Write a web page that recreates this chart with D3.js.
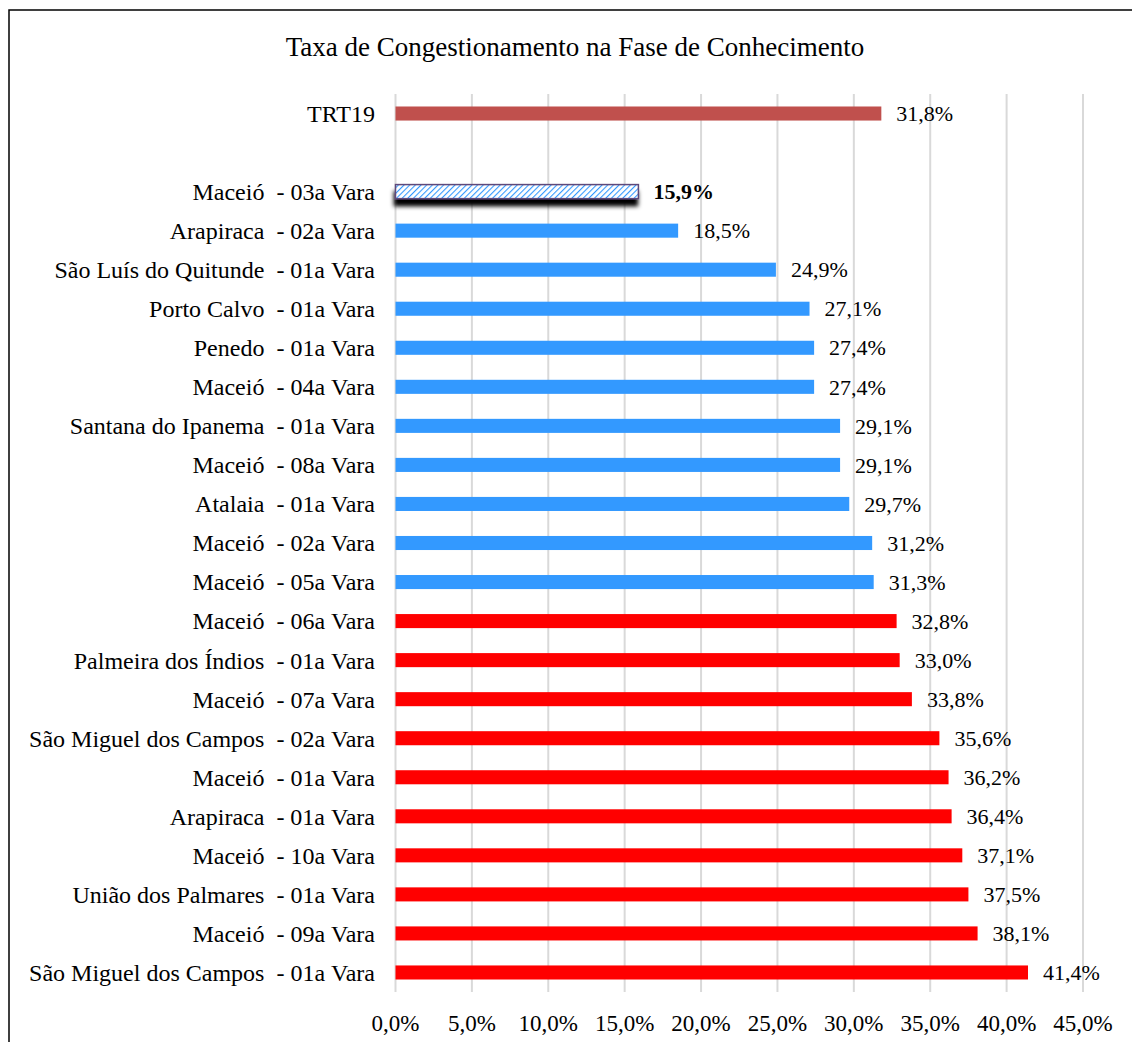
<!DOCTYPE html>
<html lang="pt">
<head>
<meta charset="UTF-8">
<title>Taxa de Congestionamento na Fase de Conhecimento</title>
<script src="https://cdn.jsdelivr.net/npm/d3@7"></script>
<style>
  body { margin: 0; background: #fff; }
  text { font-family: "Liberation Serif", "Times New Roman", serif; fill: #000; }
</style>
</head>
<body>
<div id="chart"></div>
<script>
// categories from top to bottom ("" = empty spacer row)
const categories = [
  "TRT19", "",
  "Maceió  - 03a Vara", "Arapiraca  - 02a Vara", "São Luís do Quitunde  - 01a Vara",
  "Porto Calvo  - 01a Vara", "Penedo  - 01a Vara", "Maceió  - 04a Vara",
  "Santana do Ipanema  - 01a Vara", "Maceió  - 08a Vara", "Atalaia  - 01a Vara",
  "Maceió  - 02a Vara", "Maceió  - 05a Vara", "Maceió  - 06a Vara",
  "Palmeira dos Índios  - 01a Vara", "Maceió  - 07a Vara", "São Miguel dos Campos  - 02a Vara",
  "Maceió  - 01a Vara", "Arapiraca  - 01a Vara", "Maceió  - 10a Vara",
  "União dos Palmares  - 01a Vara", "Maceió  - 09a Vara", "São Miguel dos Campos  - 01a Vara"
];
const values = [
  31.8, null,
  15.9, 18.5, 24.9, 27.1, 27.4, 27.4, 29.1, 29.1, 29.7, 31.2, 31.3,
  32.8, 33.0, 33.8, 35.6, 36.2, 36.4, 37.1, 37.5, 38.1, 41.4
];
// group: t = tribunal, h = highlighted, b = below average, r = above average
const groups = [
  "t", null,
  "h", "b", "b", "b", "b", "b", "b", "b", "b", "b", "b",
  "r", "r", "r", "r", "r", "r", "r", "r", "r", "r"
];
const xTicks = [0, 5, 10, 15, 20, 25, 30, 35, 40, 45];

const colors = { t: "#c0504d", b: "#3399ff", r: "#ff0000" };
const fmt = v => v.toFixed(1).replace(".", ",") + "%";

const W = 1132, H = 1042;
const svg = d3.select("#chart").append("svg")
  .attr("width", W).attr("height", H);

const defs = svg.append("defs");
const pat = defs.append("pattern")
  .attr("id", "hatch").attr("patternUnits", "userSpaceOnUse")
  .attr("width", 4).attr("height", 4)
  .attr("patternTransform", "rotate(45)");
pat.append("rect").attr("width", 4).attr("height", 4).attr("fill", "#fff");
pat.append("line").attr("x1", 0).attr("y1", 0).attr("x2", 0).attr("y2", 4)
  .attr("stroke", "#3399ff").attr("stroke-width", 2.2);
const shadow = defs.append("filter").attr("id", "shadow")
  .attr("x", "-10%").attr("y", "-50%").attr("width", "120%").attr("height", "260%");
shadow.append("feDropShadow").attr("dx", -1).attr("dy", 7)
  .attr("stdDeviation", 2.2).attr("flood-color", "#000").attr("flood-opacity", 1);

// outer frame
svg.append("rect").attr("x", 9).attr("y", 10)
  .attr("width", W + 20).attr("height", H + 20)
  .attr("fill", "none").attr("stroke", "#000").attr("stroke-width", 1.5);

const x = d3.scaleLinear().domain([0, 45]).range([395.5, 1083]);
const y = d3.scaleBand().domain(d3.range(categories.length))
  .range([94, 992]).paddingInner(0.64).paddingOuter(0.32);

// title
svg.append("text").attr("x", 575).attr("y", 56)
  .attr("text-anchor", "middle").style("font-size", "27px")
  .text("Taxa de Congestionamento na Fase de Conhecimento");

// gridlines
svg.append("g").selectAll("line").data(xTicks).join("line")
  .attr("x1", d => x(d)).attr("x2", d => x(d))
  .attr("y1", 94).attr("y2", 992)
  .attr("stroke", "#d9d9d9").attr("stroke-width", 2);

// x axis labels
svg.append("g").selectAll("text").data(xTicks).join("text")
  .attr("x", d => x(d)).attr("y", 1031)
  .attr("text-anchor", "middle").style("font-size", "23px")
  .text(d => fmt(d));

// bars
const rows = d3.range(categories.length).filter(i => values[i] !== null);
svg.append("g").selectAll("rect").data(rows).join("rect")
  .attr("x", x(0))
  .attr("y", i => y(i))
  .attr("width", i => x(values[i]) - x(0))
  .attr("height", y.bandwidth())
  .attr("fill", i => groups[i] === "h" ? "url(#hatch)" : colors[groups[i]])
  .attr("stroke", i => groups[i] === "h" ? "#5f497a" : "none")
  .attr("stroke-width", 1.5)
  .attr("filter", i => groups[i] === "h" ? "url(#shadow)" : null);

// category labels
svg.append("g").selectAll("text").data(rows).join("text")
  .attr("x", 375).attr("y", i => y(i) + y.bandwidth() / 2)
  .attr("dy", "0.35em").attr("text-anchor", "end")
  .style("font-size", "24px")
  .text(i => categories[i].replace(/ /g, "\u00a0"));

// value labels
svg.append("g").selectAll("text").data(rows).join("text")
  .attr("x", i => x(values[i]) + 15).attr("y", i => y(i) + y.bandwidth() / 2)
  .attr("dy", "0.35em")
  .style("font-size", "22px")
  .style("font-weight", i => groups[i] === "h" ? "bold" : "normal")
  .text(i => fmt(values[i]));
</script>
</body>
</html>
